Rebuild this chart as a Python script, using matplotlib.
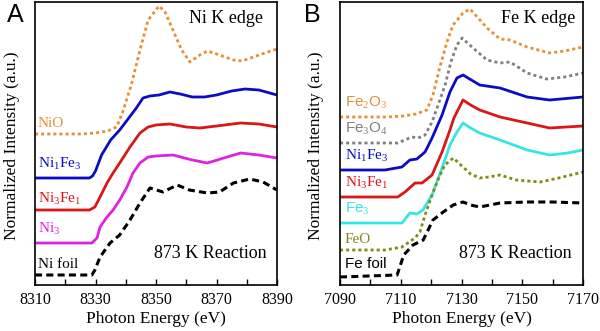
import matplotlib
matplotlib.use("Agg")
import matplotlib.pyplot as plt
from matplotlib.ticker import MultipleLocator

plt.rcParams['font.family'] = 'serif'
plt.rcParams['font.serif'] = ['Liberation Serif', 'DejaVu Serif']
plt.rcParams['mathtext.fontset'] = 'custom'
plt.rcParams['mathtext.rm'] = 'Liberation Serif'
plt.rcParams['mathtext.it'] = 'Liberation Serif:italic'

# ---- Panel A: Ni K edge (offset normalized intensity, a.u.) ----
ni_ticks = [8310, 8330, 8350, 8370, 8390]

ni_e_nio = [8310, 8325, 8330, 8334, 8337, 8339, 8342, 8344.7, 8347.4, 8351, 8353, 8355.6,
            8358.5, 8361.2, 8364.5, 8367, 8371, 8375.6, 8378.5, 8384, 8390]
ni_nio = [151, 151, 152, 154, 158, 173, 202, 235, 265, 279, 273, 255,
          235, 223, 230, 234, 230, 225, 224, 230, 236]

ni_e_11 = [8310, 8328, 8329, 8330, 8332, 8335, 8338, 8341, 8343.5, 8345.7, 8348, 8351,
           8354.6, 8358, 8362, 8366, 8370, 8375, 8379.4, 8384, 8390]
ni_ni1fe3 = [107, 107, 109, 114, 130, 145, 155, 167, 177, 187, 189, 190,
             193, 191, 188, 188, 190, 194, 196, 195, 190]

ni_e_31 = [8310, 8328, 8329.8, 8331.5, 8333.8, 8335.8, 8338, 8341.4, 8344.7, 8347.4, 8350,
           8354.6, 8360, 8364.5, 8370, 8378, 8384, 8390]
ni_ni3fe1 = [75, 75, 78, 88, 102, 112, 122, 138, 152, 158, 160,
             161, 158, 157, 159, 162, 161, 158]

ni_e_3 = [8310, 8328.8, 8330.5, 8331.5, 8333.8, 8335.8, 8338, 8340.4, 8342.4, 8344.7, 8347.4,
          8350, 8355.6, 8362, 8367, 8373.5, 8378, 8384, 8390]
ni_ni3 = [42, 42, 47, 58, 68, 75, 85, 98, 112, 122, 128,
          129, 130, 125, 122, 128, 132, 130, 127]

ni_e_foil = [8310, 8328.8, 8329.8, 8331.5, 8334.8, 8338, 8341.4, 8344.7, 8348, 8352.3, 8357,
             8361, 8367, 8371, 8375.6, 8381, 8385.4, 8390]
ni_foil = [10, 10, 15, 28, 42, 50, 65, 82, 97, 93, 100,
           95, 92, 93, 102, 106, 103, 95]

# ---- Panel B: Fe K edge ----
fe_ticks = [7090, 7110, 7130, 7150, 7170]

fe_e_fe2o3 = [7090, 7105, 7111, 7115, 7118.6, 7120.6, 7122.9, 7125.2, 7127.2, 7130.5, 7132.8,
              7135.5, 7138.4, 7142.7, 7146, 7151.6, 7159, 7164, 7170]
fe_fe2o3 = [168, 168, 169, 171, 175, 190, 218, 243, 260, 272, 276,
            267, 257, 246, 245, 238, 232, 234, 238]

fe_e_fe3o4 = [7090, 7109, 7113.7, 7115.7, 7118, 7120.3, 7122.3, 7124.6, 7126.5, 7128.5, 7130.2,
              7133.8, 7138.4, 7142.7, 7146, 7151.6, 7158, 7164, 7170]
fe_fe3o4 = [142, 142, 148, 147, 150, 163, 180, 200, 223, 240, 247,
            237, 225, 222, 223, 212, 206, 208, 212]

fe_e_11 = [7090, 7104.8, 7110.4, 7113, 7115.3, 7118, 7120.3, 7123.6, 7126.2, 7128.5, 7130.5,
           7136, 7142.7, 7151.6, 7159, 7170]
fe_ni1fe3 = [115, 115, 118, 125, 126, 133, 147, 170, 193, 207, 210,
             200, 197, 188, 185, 188]

fe_e_31 = [7090, 7109, 7111.4, 7114.7, 7117, 7120.3, 7123.6, 7126.2, 7127.5, 7130.5, 7133,
           7136, 7142.7, 7151.6, 7159, 7170]
fe_ni3fe1 = [88, 88, 93, 102, 102, 110, 133, 155, 167, 185, 180,
             175, 168, 162, 157, 159]

fe_e_3 = [7090, 7110.4, 7113, 7115.3, 7117.3, 7120.3, 7123.6, 7126.2, 7128.5, 7130.5, 7133,
          7136, 7142.7, 7151.6, 7159, 7165, 7170]
fe_fe3 = [62, 62, 72, 71, 75, 90, 117, 140, 153, 162, 157,
          152, 145, 135, 130, 132, 135]

fe_e_feo = [7090, 7104.8, 7110.4, 7114.7, 7116.3, 7118, 7120.3, 7122.5, 7124.5, 7127.3, 7130.5,
            7133, 7136, 7139, 7142.7, 7148, 7155.8, 7162, 7170]
fe_feo = [35, 35, 38, 47, 53, 70, 90, 107, 120, 127, 118,
          111, 107, 108, 110, 105, 103, 107, 113]

fe_e_foil = [7090, 7108.8, 7111, 7114, 7117.4, 7120.6, 7124, 7127.3, 7130.5, 7133, 7136,
             7142.7, 7151.6, 7160, 7170]
fe_foil = [8, 10, 30, 40, 45, 65, 73, 80, 83, 80, 78,
           82, 83, 83, 82]

orange = '#E68F35'
blue = '#0C0CC4'
red = '#DA1616'
magenta = '#DE22DE'
cyan = '#34E6E6'
gray = '#808080'
olive = '#878717'

dotted = (0, (1.1, 1.1))
dashed = (0, (2.3, 1.4))

fig = plt.figure(figsize=(6.0, 3.31), dpi=100)
axA = fig.add_axes([35/600, 46/331, 242/600, 283/331])
axB = fig.add_axes([340/600, 46/331, 243/600, 283/331])

# panel A curves
axA.plot(ni_e_nio, ni_nio, color=orange, lw=2, ls=dotted)
axA.plot(ni_e_11, ni_ni1fe3, color=blue, lw=2)
axA.plot(ni_e_31, ni_ni3fe1, color=red, lw=2)
axA.plot(ni_e_3, ni_ni3, color=magenta, lw=2)
axA.plot(ni_e_foil, ni_foil, color='black', lw=2.2, ls=dashed)

# panel B curves
axB.plot(fe_e_fe2o3, fe_fe2o3, color=orange, lw=2, ls=dotted)
axB.plot(fe_e_fe3o4, fe_fe3o4, color=gray, lw=2, ls=dotted)
axB.plot(fe_e_11, fe_ni1fe3, color=blue, lw=2)
axB.plot(fe_e_31, fe_ni3fe1, color=red, lw=2)
axB.plot(fe_e_3, fe_fe3, color=cyan, lw=2)
axB.plot(fe_e_feo, fe_feo, color=olive, lw=2, ls=dotted)
axB.plot(fe_e_foil, fe_foil, color='black', lw=2.2, ls=dashed)

for ax, ticks in [(axA, ni_ticks), (axB, fe_ticks)]:
    ax.set_xlim(ticks[0], ticks[-1])
    ax.set_ylim(0, 283)
    ax.set_xticks(ticks)
    ax.xaxis.set_minor_locator(MultipleLocator(10))
    ax.tick_params(axis='x', which='both', direction='in', labelsize=11.5, pad=5,
                   length=4, width=1)
    ax.set_yticks([])
    for s in ax.spines.values():
        s.set_linewidth(1.2)
    ax.set_xlabel('Photon Energy (eV)', fontsize=12.5, labelpad=2)

# labels panel A
fs = 11
axA.text(8311, 158, 'NiO', color=orange, fontsize=fs)
axA.text(8311, 117, 'Ni$_1$Fe$_3$', color=blue, fontsize=fs)
axA.text(8311, 82, 'Ni$_3$Fe$_1$', color=red, fontsize=fs)
axA.text(8311, 52, 'Ni$_3$', color=magenta, fontsize=fs)
axA.text(8311, 17, 'Ni foil', color='black', fontsize=fs)
axA.text(8386.5, 27, '873 K Reaction', ha='right', fontsize=13)
axA.text(8385.5, 262, 'Ni K edge', ha='right', fontsize=13)

# labels panel B
sans = 'Liberation Sans'
axB.text(7091.6, 178, 'Fe$_2$O$_3$', color=orange, fontsize=fs, family=sans)
axB.text(7091.6, 152, 'Fe$_3$O$_4$', color=gray, fontsize=fs, family=sans)
axB.text(7091.6, 125, 'Ni$_1$Fe$_3$', color=blue, fontsize=fs)
axB.text(7091.6, 98, 'Ni$_3$Fe$_1$', color=red, fontsize=fs)
axB.text(7091.6, 72, 'Fe$_3$', color=cyan, fontsize=fs, family=sans)
axB.text(7091.6, 42, 'FeO', color=olive, fontsize=fs)
axB.text(7091.6, 17, 'Fe foil', color='black', fontsize=fs, family=sans)
axB.text(7166.4, 27, '873 K Reaction', ha='right', fontsize=13)
axB.text(7167.4, 262, 'Fe K edge', ha='right', fontsize=13)

# axis labels and panel letters
fig.text(12.5/600, 0.559, 'Normalized Intensity (a.u.)', rotation=90,
         ha='center', va='center', fontsize=12.5)
fig.text(316/600, 0.559, 'Normalized Intensity (a.u.)', rotation=90,
         ha='center', va='center', fontsize=12.5)
fig.text(7/600, 1 - 3/331, 'A', ha='left', va='top', fontsize=18, family='Liberation Sans')
fig.text(304/600, 1 - 3/331, 'B', ha='left', va='top', fontsize=18, family='Liberation Sans')

fig.savefig('out.png', dpi=100)
